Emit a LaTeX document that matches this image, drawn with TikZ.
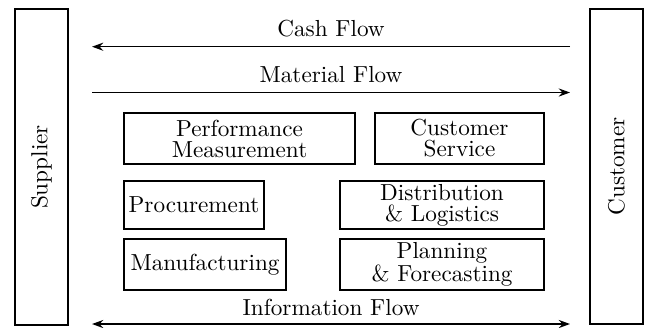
\documentclass[tikz,border=0pt]{standalone}
\usetikzlibrary{arrows.meta}
\begin{document}
\begin{tikzpicture}[x=0.444pt,y=-0.444pt,
  box/.style={draw,line width=0.7pt,inner sep=1pt,align=center,font=\fontsize{10.3}{9.3}\selectfont},
  flow/.style={line width=0.7pt},
  lbl/.style={anchor=base,inner sep=0pt,font=\fontsize{10.3}{9.3}\selectfont},
  myarr/.tip={Stealth[length=5pt,width=3.6pt]}]
\useasboundingbox (0,0) rectangle (647,327);
\node[box,minimum width=23.5pt,minimum height=140.3pt] (sup) at (41.5,167) {};
\node[rotate=90,font=\fontsize{10.3}{9.3}\selectfont] at (sup.center) {Supplier};
\node[box,minimum width=23.5pt,minimum height=139.9pt] (cus) at (616.5,166.5) {};
\node[rotate=90,font=\fontsize{10.3}{9.3}\selectfont] at (cus.center) {Customer};
\node[box,minimum width=102.6pt,minimum height=22.6pt] (perf) at (239.5,138.5) {Performance\\Measurement};
\node[box,minimum width=75.0pt,minimum height=22.6pt] (serv) at (459.5,138.5) {Customer\\Service};
\node[box,minimum width=62.2pt,minimum height=21.3pt] (proc) at (194,205) {Procurement};
\node[box,minimum width=71.9pt,minimum height=22.6pt] (manu) at (205,264.5) {Manufacturing};
\node[box,minimum width=90.6pt,minimum height=21.3pt] (dist) at (442,205) {Distribution\\\& Logistics};
\node[box,minimum width=90.6pt,minimum height=22.6pt] (plan) at (442,264.5) {Planning\\\& Forecasting};
\coordinate (cashR) at (570,46.7);
\coordinate (cashL) at (92,46.7);
\coordinate (matL) at (92,92.5);
\coordinate (matR) at (570,92.5);
\coordinate (infL) at (92,324);
\coordinate (infR) at (570,324);
\draw[flow,-myarr] (cashR) -- (cashL);
\draw[flow,-myarr] (matL) -- (matR);
\draw[flow,myarr-myarr] (infL) -- (infR);
\node[lbl] (cashlbl) at (331,36.7) {Cash Flow};
\node[lbl] (matlbl) at (331,82) {Material Flow};
\node[lbl] (inflbl) at (331,315) {Information Flow};
\end{tikzpicture}
\end{document}
